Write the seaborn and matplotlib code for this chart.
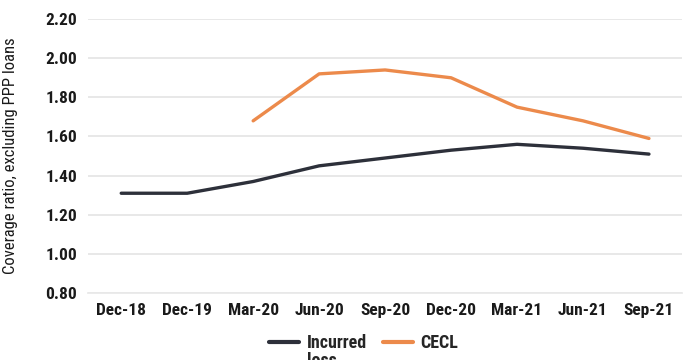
import matplotlib
matplotlib.use("Agg")
import matplotlib.pyplot as plt
import seaborn as sns
import pandas as pd
import numpy as np

quarters = ["Dec-18", "Dec-19", "Mar-20", "Jun-20", "Sep-20",
            "Dec-20", "Mar-21", "Jun-21", "Sep-21"]
incurred_loss = [1.31, 1.31, 1.37, 1.45, 1.49, 1.53, 1.56, 1.54, 1.51]
cecl = [np.nan, np.nan, 1.68, 1.92, 1.94, 1.90, 1.75, 1.68, 1.59]
y_ticks = [0.80, 1.00, 1.20, 1.40, 1.60, 1.80, 2.00, 2.20]
series_names = ["Incurred loss", "CECL"]

df = pd.DataFrame({"Quarter": quarters,
                   series_names[0]: incurred_loss,
                   series_names[1]: cecl})
long = df.melt(id_vars="Quarter", var_name="Series", value_name="Ratio")
long["pos"] = long["Quarter"].map({q: i for i, q in enumerate(quarters)})

sns.set_theme(style="white")
plt.rcParams["font.family"] = ["Roboto Condensed", "DejaVu Sans"]

fig = plt.figure(figsize=(6.84, 3.6), dpi=100)
ax = fig.add_axes([0.129, 0.186, 0.868, 0.761])

palette = {series_names[0]: "#2d303a", series_names[1]: "#ec8a4b"}
sns.lineplot(data=long, x="pos", y="Ratio", hue="Series", palette=palette,
             linewidth=2.4, ax=ax, sort=False, legend="brief")

ax.set_xlim(-0.5, len(quarters) - 0.5)
ax.set_ylim(0.80, 2.20)
ax.set_xticks(range(len(quarters)))
ax.set_xticklabels(quarters, fontsize=12.5, fontweight="bold", color="#1a1a1a")
ax.set_yticks(y_ticks)
ax.set_yticklabels([f"{t:.2f}" for t in y_ticks], fontsize=12.5,
                   fontweight="bold", color="#1a1a1a")
ax.tick_params(axis="x", length=0, pad=7)
ax.tick_params(axis="y", length=0, pad=8)
ax.set_xlabel("")
ax.set_ylabel("Coverage ratio, excluding PPP loans", fontsize=12,
              color="#1a1a1a")
ax.yaxis.set_label_coords(-0.118, 0.5)
ax.grid(axis="y", color="#e8e8e8", linewidth=1.4)
ax.set_axisbelow(True)
for s in ["top", "right", "left"]:
    ax.spines[s].set_visible(False)
ax.spines["bottom"].set_color("#e8e8e8")

# Legend: first word of the wrapped label sits beside its line sample,
# the remainder wraps underneath.
handles, labels = ax.get_legend_handles_labels()
ax.get_legend().remove()
for h in handles:
    h.set_linewidth(3)
first_words = [lab.split(" ")[0] for lab in labels]
leg = fig.legend(handles, first_words, loc="upper center",
                 bbox_to_anchor=(364 / 684, 1 - 325 / 360),
                 ncol=2, frameon=False, handlelength=1.65,
                 columnspacing=0.85, handletextpad=0.45, borderpad=0,
                 labelspacing=0, prop={"weight": "bold", "size": 13})

fig.canvas.draw()
renderer = fig.canvas.get_renderer()
for txt, lab in zip(leg.get_texts(), labels):
    rest = lab.split(" ", 1)[1:]
    if rest:
        bb = txt.get_window_extent(renderer).transformed(fig.transFigure.inverted())
        fig.text(bb.x0, bb.y0 - 0.001, rest[0], ha="left", va="top",
                 fontsize=13, fontweight="bold", color=txt.get_color(),
                 linespacing=1.0)

fig.savefig("out.png", dpi=100)
